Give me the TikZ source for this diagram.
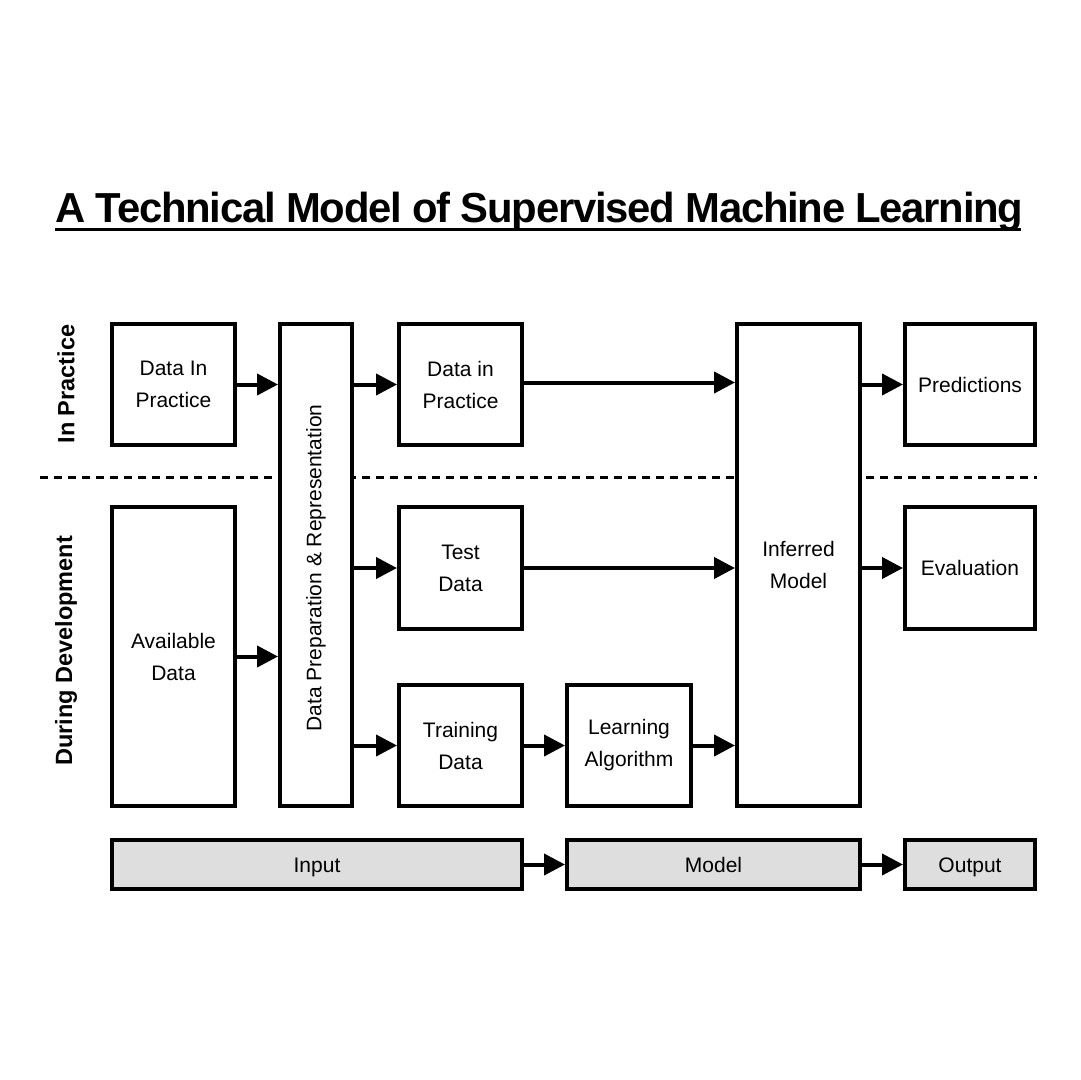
\documentclass[tikz,border=0pt]{standalone}
\usepackage{fontspec}
\setmainfont{Liberation Sans}
\newfontfamily\titlefont[LetterSpace=-3]{Liberation Sans}
\usetikzlibrary{arrows.meta}
\begin{document}
\begin{tikzpicture}[x=0.5pt,y=-0.5pt,
  box/.style={draw=black, line width=2pt, fill=white, align=center,
    font=\fontsize{10.5}{16}\selectfont, inner sep=0pt},
  gbox/.style={box, fill=black!13, text height=8.5pt, text depth=0.5pt},
  arr/.style={line width=2pt, -{Triangle[length=10.5pt,width=10.5pt]}},
  side/.style={rotate=90, inner sep=0pt, font=\fontsize{11.75}{14}\selectfont\bfseries},
  dline/.style={line width=1.5pt, dash pattern=on 4pt off 3pt}
]
\useasboundingbox[fill=white] (0,0) rectangle (1080,1080);

% title
\node[anchor=base west, inner sep=0pt] (title) at (55,223)
  {\resizebox{484pt}{15.2pt}{\titlefont\bfseries A Technical Model of Supervised Machine Learning}};
\coordinate (ulA) at (55,229.5);
\coordinate (ulB) at (1021,229.5);
\draw[line width=1.6pt] (ulA) -- (ulB);

% dashed separator
\coordinate (dl) at (40,477);
\coordinate (dr) at (1037,477);
\draw[dline] (dl) -- (dr);

% side labels
\node[side] (inpr) at (66,384) {In Practice};
\node[side] (dudev) at (66,651) {During Development};

% boxes
\node[box, minimum width=61.5pt, minimum height=60.5pt] (dip1) at (173.5,384.5) {Data In\\Practice};
\node[box, minimum width=36pt, minimum height=241pt] (prep) at (316,565) {};
\node[rotate=90, inner sep=0pt, font=\fontsize{10.5}{16}\selectfont] (preplbl) at (316,568) {Data Preparation \& Representation};
\node[box, minimum width=61.5pt, minimum height=60.5pt] (dip2) at (460.5,384.5) {Data in\\Practice};
\node[box, minimum width=61.5pt, minimum height=241pt] (inf) at (798.5,565) {Inferred\\Model};
\node[box, minimum width=65pt, minimum height=60.5pt] (pred) at (970,384.5) {Predictions};
\node[box, minimum width=65pt, minimum height=61pt] (eval) at (970,568) {Evaluation};
\node[box, minimum width=61.5pt, minimum height=149.5pt] (avail) at (173.5,656.5) {Available\\Data};
\node[box, minimum width=61.5pt, minimum height=61pt] (test) at (460.5,568) {Test\\Data};
\node[box, minimum width=61.5pt, minimum height=60.5pt] (train) at (460.5,745.5) {Training\\Data};
\node[box, minimum width=62pt, minimum height=60.5pt] (learn) at (629,745.5) {Learning\\Algorithm};

\node[gbox, minimum width=205pt, minimum height=24.5pt] (input) at (317,864.5) {Input};
\node[gbox, minimum width=146.5pt, minimum height=24.5pt] (model) at (713.5,864.5) {Model};
\node[gbox, minimum width=65pt, minimum height=24.5pt] (output) at (970,864.5) {Output};

% arrows
\draw[arr] (dip1.east) -- (prep.west |- dip1.east);
\draw[arr] (avail.east) -- (prep.west |- avail.east);
\draw[arr] (prep.east |- dip2.west) -- (dip2.west);
\draw[arr] (prep.east |- test.west) -- (test.west);
\draw[arr] (prep.east |- train.west) -- (train.west);
\draw[arr] ([yshift=1pt]dip2.east) -- ([yshift=1pt]inf.west |- dip2.east);
\draw[arr] (test.east) -- (inf.west |- test.east);
\draw[arr] (train.east) -- (learn.west);
\draw[arr] (learn.east) -- (inf.west |- learn.east);
\draw[arr] (inf.east |- pred.west) -- (pred.west);
\draw[arr] (inf.east |- eval.west) -- (eval.west);
\draw[arr] (input.east) -- (model.west);
\draw[arr] (model.east) -- (output.west);
\end{tikzpicture}
\end{document}
